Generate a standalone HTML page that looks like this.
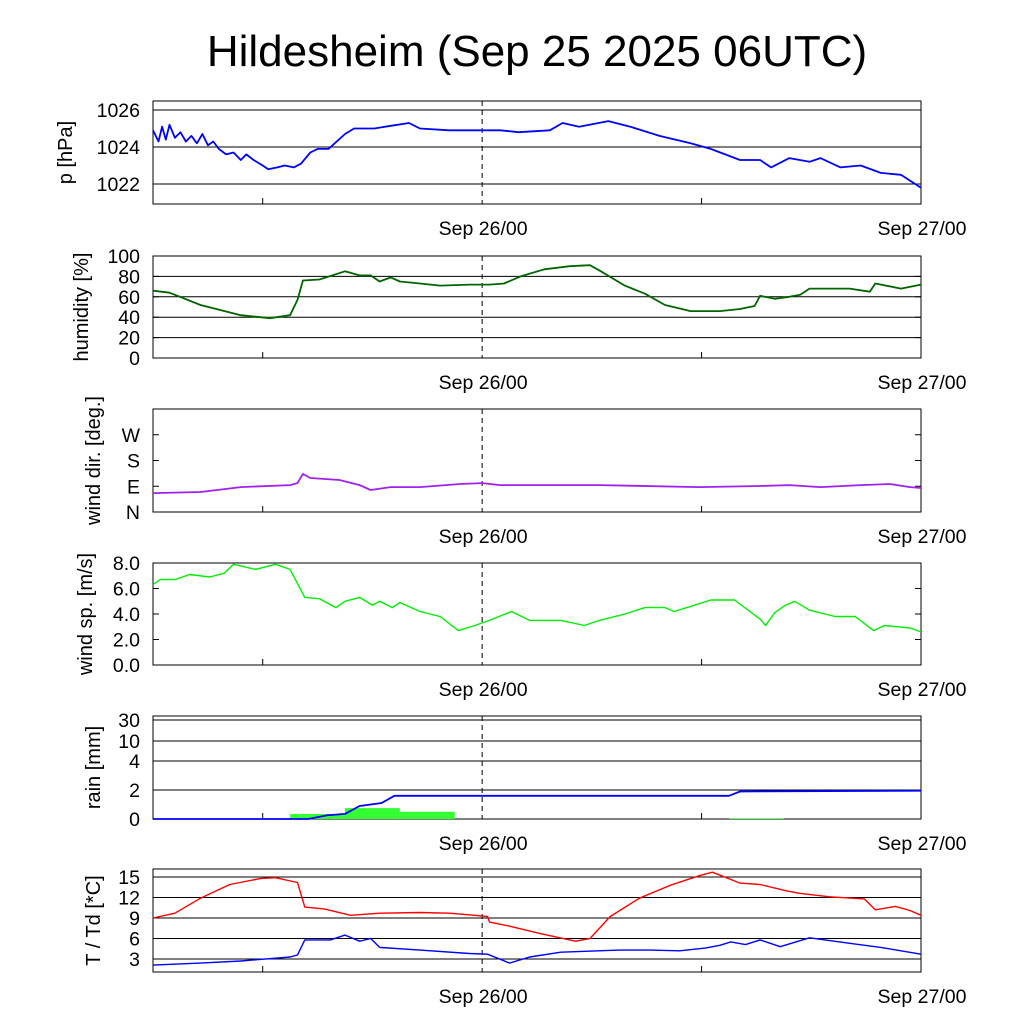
<!DOCTYPE html>
<html><head><meta charset="utf-8"><style>
body{margin:0;background:#fff}
svg{display:block;font-family:"Liberation Sans",sans-serif}
</style></head><body>
<svg id="c" width="1024" height="1024" xmlns="http://www.w3.org/2000/svg">
<text x="537" y="66" font-size="44" text-anchor="middle">Hildesheim (Sep 25 2025 06UTC)</text>
</svg>
<script>
// time in hours since Sep 25 06UTC
const pT=[0,0.3,0.5,0.7,0.9,1.2,1.5,1.8,2.1,2.4,2.7,3.0,3.3,3.6,4.0,4.4,4.8,5.1,5.5,6.0,6.3,6.8,7.2,7.7,8.1,8.6,9.0,9.6,10.5,11.0,12.1,12.7,14.0,14.6,16.2,18,19,20,21.7,22.4,23.3,24.9,26.1,27.7,29.4,30.5,32.1,33.2,33.8,34.8,35.9,36.5,37.6,38.7,39.8,40.9,42];
const pV=[1024.9,1024.3,1025.1,1024.4,1025.2,1024.5,1024.8,1024.3,1024.6,1024.2,1024.7,1024.1,1024.3,1023.9,1023.6,1023.7,1023.3,1023.6,1023.3,1023.0,1022.8,1022.9,1023.0,1022.9,1023.1,1023.7,1023.9,1023.9,1024.7,1025.0,1025.0,1025.1,1025.3,1025.0,1024.9,1024.9,1024.9,1024.8,1024.9,1025.3,1025.1,1025.4,1025.1,1024.6,1024.2,1023.9,1023.3,1023.3,1022.9,1023.4,1023.2,1023.4,1022.9,1023.0,1022.6,1022.5,1021.8];
const hT=[0,0.9,2.6,4.8,6.4,7.5,7.9,8.2,9.1,10.5,11.3,11.9,12.4,13.0,13.5,14.6,15.7,17.3,18.4,19.2,20.1,21.4,22.8,23.9,24.4,25.8,26.9,28.0,29.4,31.0,32.1,32.9,33.2,34.0,34.8,35.4,35.9,38.1,39.2,39.5,40.9,42];
const hV=[66,64,52,42,39,42,57,76,77,85,81,81,75,79,75,73,71,72,72,73,80,87,90,91,86,71,63,52,46,46,48,51,61,58,60,62,68,68,65,73,68,72];
const dT=[0,2.6,4.8,7.5,7.9,8.2,8.6,10.2,11.3,11.9,13.0,14.6,16.8,18,19.0,24.4,29.9,33.2,34.8,36.5,38.7,40.3,41.4,42];
const dV=[66,70,87,94,101,133,119,112,94,77,87,87,98,101,94,94,87,91,94,87,94,98,87,84];
const wT=[0,0.4,1.2,2.0,3.1,3.9,4.4,5.6,6.7,7.5,8.3,9.1,10.0,10.5,11.3,12.0,12.4,13.1,13.5,14.6,15.7,16.7,17.6,18.4,19.6,20.6,22.3,23.6,24.4,25.8,26.9,28.0,28.5,29.4,30.5,31.8,33.2,33.5,34.0,34.6,35.1,35.9,37.3,38.4,39.4,40.0,41.4,42];
const wV=[6.3,6.7,6.7,7.1,6.9,7.2,7.9,7.5,7.9,7.5,5.3,5.2,4.5,5.0,5.3,4.7,5.0,4.5,4.9,4.2,3.8,2.7,3.1,3.5,4.2,3.5,3.5,3.1,3.5,4.0,4.5,4.5,4.2,4.6,5.1,5.1,3.6,3.1,4.1,4.7,5.0,4.3,3.8,3.8,2.7,3.1,2.9,2.6];
const rainBinStart=[7.5,10.5,13.5,31.5];
const rainBinEnd=[10.5,13.5,16.5,34.5];
const rainBinV=[0.35,0.75,0.5,0.05];
const rcT=[0,8.5,9.5,10.5,11.3,12.5,13.2,31.5,32.1,42];
const rcV=[0,0,0.25,0.35,0.9,1.1,1.6,1.6,1.9,1.95];
const tT=[0,1.2,2.6,4.2,5.9,6.7,7.9,8.3,9.4,10.8,12.4,14.6,16.2,17.6,18.3,18.4,19.5,21.2,23.1,23.9,25.0,26.6,28.3,29.9,30.6,32.1,33.2,34.6,35.4,37.0,38.9,39.5,40.6,41.4,42];
const tV=[9.0,9.7,11.9,13.9,14.8,14.9,14.2,10.6,10.3,9.4,9.7,9.8,9.7,9.4,9.2,8.4,7.8,6.7,5.6,6.0,9.2,11.9,13.8,15.2,15.7,14.1,13.9,13.0,12.6,12.1,11.8,10.2,10.7,10.1,9.4];
const dpT=[0,2.6,4.8,7.5,7.9,8.3,9.7,10.5,11.3,11.9,12.4,14.6,17.3,18.3,19.5,20.6,22.3,25.5,27.2,28.8,30.2,31.0,31.6,32.4,33.2,34.3,35.9,38.1,39.8,42];
const dpV=[2.1,2.4,2.7,3.3,3.6,5.8,5.8,6.5,5.6,6.0,4.7,4.3,3.8,3.7,2.4,3.3,4.0,4.3,4.3,4.2,4.6,5.0,5.5,5.1,5.8,4.8,6.1,5.3,4.7,3.7];

const NS='http://www.w3.org/2000/svg';
const svg=document.getElementById('c');
const X0=153,X1=921;
const x=h=>X0+(h/42)*(X1-X0);
function el(t,a,p){const e=document.createElementNS(NS,t);for(const k in a)e.setAttribute(k,a[k]);(p||svg).appendChild(e);return e;}
function lin(v0,v1,y0,y1){return v=>y0+(v-v0)/(v1-v0)*(y1-y0);}
function pw(vs,ys){return v=>{for(let i=0;i<vs.length-1;i++){if(v<=vs[i+1]||i==vs.length-2)return ys[i]+(v-vs[i])/(vs[i+1]-vs[i])*(ys[i+1]-ys[i]);}};}

function panel(name,top,bot,title,tx,ticks,grid,fy){
  const g=el('g',{});
  
  
  grid.forEach(v=>{const l=el('line',{x1:X0,x2:X1,y1:fy(v),y2:fy(v),stroke:'#000','stroke-width':1},g);
    });
  ticks.forEach(([v,lab])=>{
    const t=el('text',{x:140,y:fy(v)+7,'font-size':19.5,'text-anchor':'end'},g);t.textContent=lab;
    
    el('line',{x1:X0,x2:X0+6,y1:fy(v),y2:fy(v),stroke:'#000'},g);
    el('line',{x1:X1-6,x2:X1,y1:fy(v),y2:fy(v),stroke:'#000'},g);
  });
  [6,30].forEach(h=>{el('line',{x1:x(h),x2:x(h),y1:bot,y2:bot-6,stroke:'#000'},g);});
  const d=el('line',{x1:x(18),x2:x(18),y1:top,y2:bot,stroke:'#000','stroke-dasharray':'5,4'},g);
  
  const r=el('rect',{x:X0,y:top,width:X1-X0,height:bot-top,fill:'none',stroke:'#000','stroke-width':1},g);
  
  const yt=el('text',{x:tx,y:(top+bot)/2,'font-size':20,'text-anchor':'middle',transform:`rotate(-90 ${tx} ${(top+bot)/2})`},g);
  yt.textContent=title;
  [[18,'Sep 26/00'],[42,'Sep 27/00']].forEach(([h,l])=>{const t=el('text',{x:x(h)+1,y:bot+31,'font-size':19.5,'text-anchor':'middle'},g);t.textContent=l;
    });
  return g;
}
function line(g,name,T,V,fy,col,w){
  const p=el('path',{d:T.map((t,i)=>(i?'L':'M')+x(t).toFixed(1)+','+fy(V[i]).toFixed(1)).join(''),fill:'none',stroke:col,'stroke-width':w||1.8,'stroke-linejoin':'round'},g);
  
}
// pressure
let fy=lin(1026,1022,110,184);
let g=panel('pressure',101,204,'p [hPa]',72,[[1026,'1026'],[1024,'1024'],[1022,'1022']],[1026,1024,1022],fy);
line(g,'pressure-line',pT,pV,fy,'#0000ff');
// humidity
fy=lin(0,100,358,256);
g=panel('humidity',256,358,'humidity [%]',88,[[0,'0'],[20,'20'],[40,'40'],[60,'60'],[80,'80'],[100,'100']],[20,40,60,80],fy);
line(g,'humidity-line',hT,hV,fy,'#006400');
// wind dir
fy=lin(0,360,512,409);
g=panel('winddir',409,512,'wind dir. [deg.]',100,[[0,'N'],[90,'E'],[180,'S'],[270,'W']],[],fy);
line(g,'wind-direction-line',dT,dV,fy,'#a020f0');
// wind speed
fy=lin(0,8,665,563);
g=panel('windspeed',563,665,'wind sp. [m/s]',92,[[0,'0.0'],[2,'2.0'],[4,'4.0'],[6,'6.0'],[8,'8.0']],[],fy);
line(g,'wind-speed-line',wT,wV,fy,'#00ee00',1.4);
// rain
fy=pw([0,2,4,10,30,40],[819,790,761,741,720,716]);
g=panel('rain',716,819,'rain [mm]',100,[[0,'0'],[2,'2'],[4,'4'],[10,'10'],[30,'30']],[2,4,10,30],fy);
rainBinV.forEach((v,i)=>{const r=el('rect',{x:x(rainBinStart[i]),y:fy(v),width:x(rainBinEnd[i])-x(rainBinStart[i]),height:819-fy(v),fill:'#33ff33'},g);
  });
line(g,'rain-cumulative-line',rcT,rcV,fy,'#0000ff');
// temperature
fy=lin(0,15,979.5,877);
g=panel('temperature',869,972,'T / Td [*C]',100,[[3,'3'],[6,'6'],[9,'9'],[12,'12'],[15,'15']],[3,6,9,12,15],fy);
line(g,'temperature-line',tT,tV,fy,'#ff0000',1.4);
line(g,'dewpoint-line',dpT,dpV,fy,'#0000ff',1.4);
</script>
</body></html>
